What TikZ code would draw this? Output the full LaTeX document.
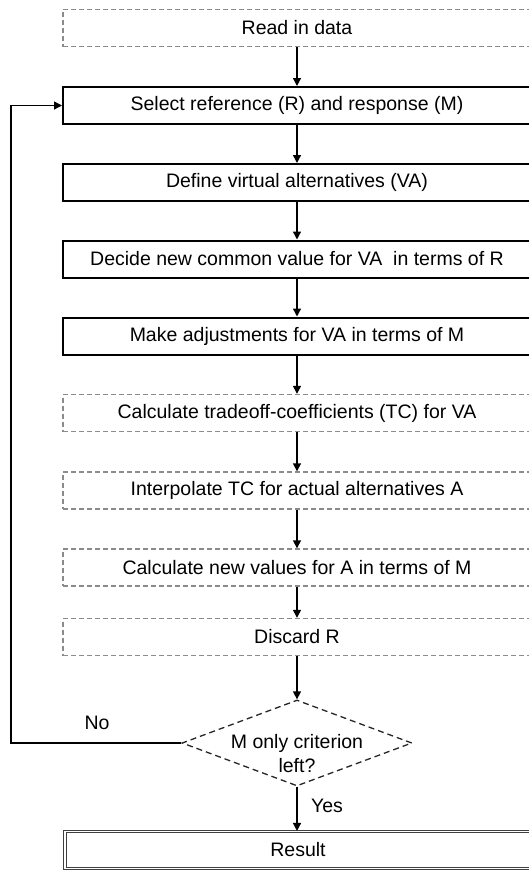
\documentclass[tikz,border=0pt]{standalone}
\usepackage{fontspec}
\setmainfont{Liberation Sans}
\usetikzlibrary{arrows.meta,shapes.geometric}
\definecolor{dgray}{HTML}{8A8A8A}
\tikzset{
  every node/.style={font=\fontsize{19.5}{24}\selectfont},
  solidbox/.style={rectangle,draw=black,line width=2pt,minimum width=480pt,minimum height=37pt,inner sep=0pt,fill=white},
  dashbox/.style={rectangle,draw=dgray,line width=1.4pt,dash pattern=on 5pt off 3pt,minimum width=480pt,minimum height=37pt,inner sep=0pt},
  resbox/.style={rectangle,draw=black!75,double=white,double distance=1.6pt,line width=1.1pt,minimum width=478pt,minimum height=37pt,inner sep=0pt},
  decision/.style={diamond,draw=black!85,line width=1.3pt,dash pattern=on 6pt off 4pt,minimum width=230pt,minimum height=86pt,inner sep=0pt,aspect=2.67},
  arr/.style={draw=black,line width=1.4pt,-{Triangle[length=8pt,width=8pt]}},
  plain/.style={inner sep=0pt}
}
\begin{document}
\begin{tikzpicture}[x=1pt,y=-1pt]
\useasboundingbox (0,0) rectangle (528,870);
\node[dashbox] (read) at (303,28) {\hspace*{-12pt}Read in data};
\node[solidbox] (sel) at (303,105.5) {\hspace*{-12pt}Select reference (R) and response (M)};
\node[solidbox] (def) at (303,182.5) {\hspace*{-12pt}Define virtual alternatives (VA)};
\node[solidbox] (dec) at (303,259) {\hspace*{-12pt}Decide new common value for VA\ \ in terms of R};
\node[solidbox] (adj) at (303,336) {\hspace*{-12pt}Make adjustments for VA in terms of M};
\node[dashbox] (tc) at (303,413) {\hspace*{-12pt}Calculate tradeoff-coefficients (TC) for VA};
\node[dashbox] (interp) at (303,490.5) {\hspace*{-12pt}Interpolate TC for actual alternatives A};
\node[dashbox] (newv) at (303,567.5) {\hspace*{-12pt}Calculate new values for A in terms of M};
\node[dashbox] (disc) at (303,637) {\hspace*{-12pt}Discard R};
\node[decision] (crit) at (297,743) {};
\node[plain,align=center] (crittext) at (297,754) {M only criterion\\left?};
\node[resbox] (res) at (304,850) {\hspace*{-12pt}Result};
\node[plain] (no) at (97,723) {No};
\node[plain] (yes) at (327,806) {Yes};
\coordinate (loop) at (11,743);
\coordinate (axis) at (297,0);
\draw[arr] (read.south -| axis) -- (sel.north -| axis);
\draw[arr] (sel.south -| axis) -- (def.north -| axis);
\draw[arr] (def.south -| axis) -- (dec.north -| axis);
\draw[arr] (dec.south -| axis) -- (adj.north -| axis);
\draw[arr] (adj.south -| axis) -- (tc.north -| axis);
\draw[arr] (tc.south -| axis) -- (interp.north -| axis);
\draw[arr] (interp.south -| axis) -- (newv.north -| axis);
\draw[arr] (newv.south -| axis) -- (disc.north -| axis);
\draw[arr] (disc.south -| axis) -- (crit.north);
\draw[arr] (crit.south) -- (res.north -| axis);
\draw[arr] (crit.west) -- (loop) |- (sel.west);
\end{tikzpicture}
\end{document}
